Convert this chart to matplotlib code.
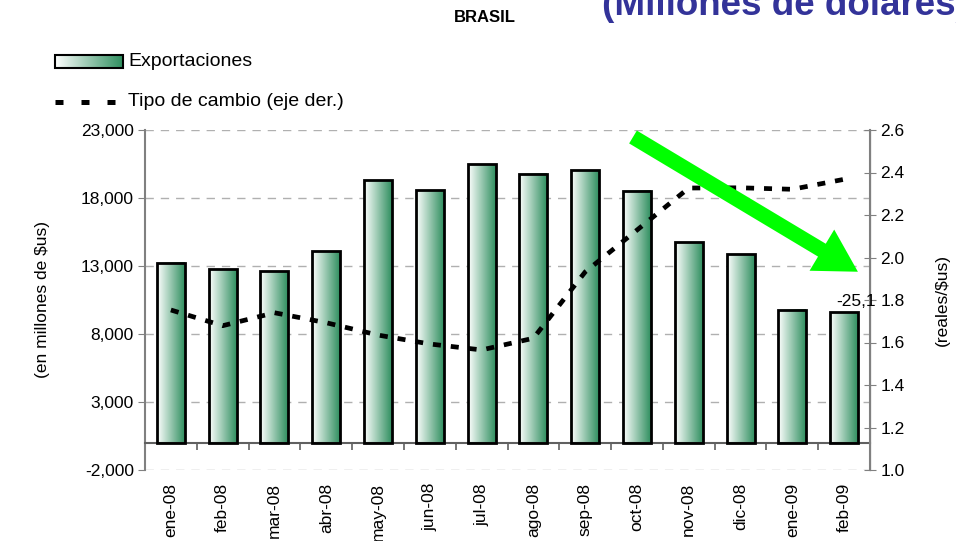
import numpy as np
import matplotlib
matplotlib.use("Agg")
import matplotlib.pyplot as plt
from matplotlib.colors import LinearSegmentedColormap
from matplotlib.patches import Rectangle, FancyArrow

plt.rcParams["font.family"] = ["Liberation Sans", "DejaVu Sans"]

# data
meses = ["ene-08", "feb-08", "mar-08", "abr-08", "may-08", "jun-08", "jul-08",
         "ago-08", "sep-08", "oct-08", "nov-08", "dic-08", "ene-09", "feb-09"]
exportaciones = [13250, 12790, 12600, 14070, 19290, 18600, 20510,
                 19780, 20070, 18550, 14760, 13850, 9780, 9610]
tipo_cambio = [1.753, 1.679, 1.740, 1.693, 1.635, 1.593, 1.565,
               1.620, 1.932, 2.129, 2.327, 2.328, 2.321, 2.368]
left_ticks = [-2000, 3000, 8000, 13000, 18000, 23000]
right_ticks = [1.0, 1.2, 1.4, 1.6, 1.8, 2.0, 2.2, 2.4, 2.6]

W, H = 956, 541
fig = plt.figure(figsize=(W / 100, H / 100), dpi=100)
ax = fig.add_axes([145 / W, 1 - 470 / H, 725 / W, 340 / H])
ax2 = ax.twinx()

cmap = LinearSegmentedColormap.from_list("verde", ["#ffffff", "#2f8f5f"])
grad = np.linspace(0, 1, 256).reshape(1, -1)
x = np.arange(len(meses))
bw = 0.54

for xi, v in zip(x, exportaciones):
    ax.imshow(grad, cmap=cmap, aspect="auto", extent=[xi - bw / 2, xi + bw / 2, 0, v],
              zorder=2, interpolation="bilinear")
    ax.add_patch(Rectangle((xi - bw / 2, 0), bw, v, fill=False, ec="black", lw=2, zorder=3))
ax.set_xlim(-0.5, len(meses) - 0.5)
ax.set_ylim(-2000, 23000)

# grid
ax.set_yticks(left_ticks)
ax.set_yticklabels([f"{t:,}" for t in left_ticks], fontsize=12.5)
ax.yaxis.grid(True, color="#b0b0b0", ls=(0, (6, 5)), lw=1)
ax.set_axisbelow(True)
ax.tick_params(axis="y", direction="out", length=5, color="#808080", pad=3)

# x axis at zero
ax.spines["top"].set_visible(False)
ax.spines["bottom"].set_position(("data", 0))
ax.spines["bottom"].set_color("#606060")
ax.spines["bottom"].set_linewidth(1.5)
ax.spines["left"].set_color("#808080")
ax.spines["left"].set_linewidth(1.5)
ax.set_xticks(np.arange(0.5, len(meses), 1))
ax.set_xticklabels([])
ax.tick_params(axis="x", which="major", direction="out", length=5, color="#606060", width=1.2)
ax.set_xticks(x, minor=True)
ax.set_xticklabels(meses, minor=True, rotation=90, fontsize=12.5)
ax.tick_params(axis="x", which="minor", length=0, pad=29)

ax.set_ylabel("(en millones de $us)", fontsize=12.5, labelpad=22)

ax2.plot(x, tipo_cambio, color="black", lw=3.4, dashes=(1.7, 2.1), zorder=4)
ax2.set_ylim(1.0, 2.6)
ax2.set_yticks(right_ticks)
ax2.set_yticklabels([f"{t:.1f}" for t in right_ticks], fontsize=12.5)
ax2.tick_params(axis="y", direction="inout", length=9, color="#808080", pad=3)
ax2.spines["right"].set_color("#808080")
ax2.spines["right"].set_linewidth(1.5)
for s in ["top", "left", "bottom"]:
    ax2.spines[s].set_visible(False)
ax2.set_ylabel("(reales/$us)", fontsize=12.5, labelpad=22)

# overlay in pixel coordinates
ov = fig.add_axes([0, 0, 1, 1], zorder=10)
ov.axis("off")
ov.patch.set_alpha(0)

ov.text(485, 18, "BRASIL", ha="center", va="center", fontsize=12, fontweight="bold")
ov.text(602, 15, "(Millones de dólares)", ha="left", va="baseline", fontsize=26.5,
        fontweight="bold", color="#333399")

# legend
ov.imshow(grad, cmap=cmap, aspect="auto", extent=[55, 123, 68, 55], interpolation="bilinear")
ov.add_patch(Rectangle((55, 55), 68, 13, fill=False, ec="black", lw=1.5))
ov.text(128, 62, "Exportaciones", va="center", fontsize=14)
ov.plot([55, 115], [102, 102], color="black", lw=3.6, dashes=(1.6, 3.6), solid_capstyle="butt")
ov.text(128, 102, "Tipo de cambio (eje der.)", va="center", fontsize=14)
ov.set_xlim(0, W)
ov.set_ylim(H, 0)

ov.add_patch(FancyArrow(633, 137, 858 - 633 - 42 * 0.86, 272 - 137 - 42 * 0.52,
                        width=15, head_width=48, head_length=42,
                        length_includes_head=False, color="#00ff00", lw=0))
ov.text(876, 301, "-25,1", ha="right", va="center", fontsize=12.5)

fig.savefig("out.png", dpi=100)
